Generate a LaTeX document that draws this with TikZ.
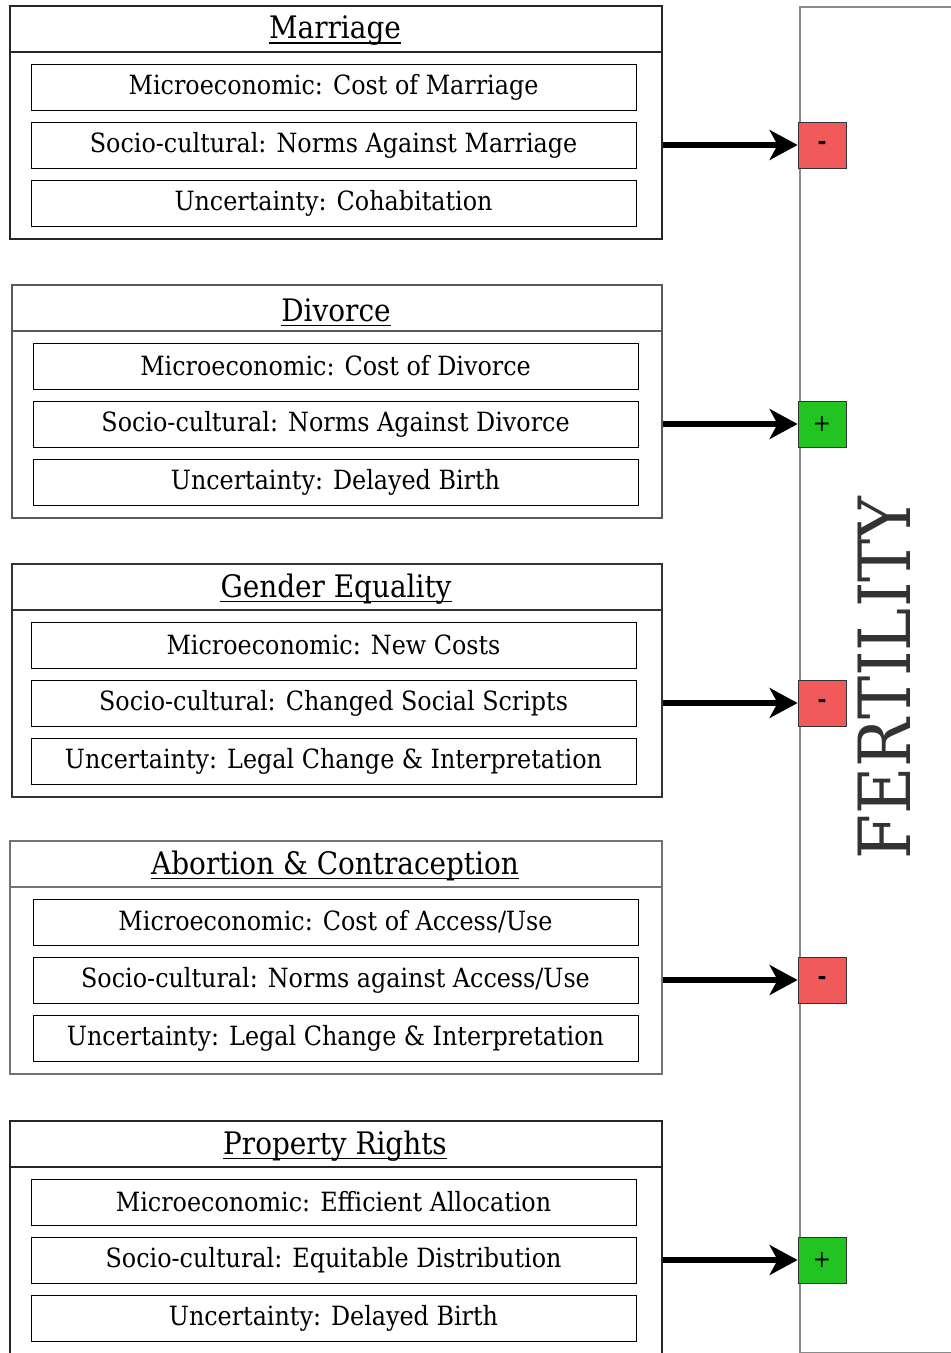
\documentclass[tikz,border=0pt]{standalone}
\usepackage{fontspec}
\setmainfont{DejaVu Serif Condensed}
\usetikzlibrary{arrows.meta}

\definecolor{negred}{HTML}{F05A5A}
\definecolor{posgreen}{HTML}{22C422}
\definecolor{fertgray}{HTML}{8A8A8A}
\definecolor{fertink}{HTML}{333333}

\tikzset{
  groupbox/.style={rectangle, line width=2pt, anchor=north west, inner sep=0pt},
  titletext/.style={inner sep=0pt, font=\fontsize{31}{34}\selectfont},
  itembox/.style={draw, rectangle, line width=1pt, minimum width=605pt,
                  minimum height=46pt, inner sep=0pt, font=\fontsize{26.5}{30}\selectfont},
  signbox/.style={draw=black!80, rectangle, line width=0.8pt, minimum width=48pt,
                  minimum height=46pt, inner sep=0pt, font=\fontsize{24}{26}\selectfont},
  effectarrow/.style={line width=6.5pt, -{Stealth[length=28pt,width=30pt,inset=8pt]}},
}

% #1 name, #2 top, #3 outer left, #4 inner left, #5 title, #6-#8 items, #9 frame colour
\newcommand\policypanel[9]{%
  \node[groupbox, draw=#9, minimum width={(661-#3)*1pt}, minimum height=233pt] (#1) at (#3,#2) {};
  \draw[draw=#9, line width=2pt] ([yshift=-47pt]#1.north west) -- ([yshift=-47pt]#1.north east);
  \node[titletext] (#1t) at ({(#3+661)/2},{#2+26}) {#5};
  \draw[line width=1.3pt] ([yshift=-4pt]#1t.base west) -- ([yshift=-4pt]#1t.base east);
  \node[itembox] (#1a) at ({#4+302.5},{#2+82}) {#6};
  \node[itembox] (#1b) at ({#4+302.5},{#2+140}) {#7};
  \node[itembox] (#1c) at ({#4+302.5},{#2+198}) {#8};
}

% #1 panel name, #2 fill colour, #3 sign
\newcommand\effectsign[3]{%
  \node[signbox, fill=#2] (#1s) at (#1b -| fx) {#3};
  \draw[effectarrow] (#1b -| #1.east) -- (#1s.west);
}

\begin{document}
\begin{tikzpicture}[x=1pt, y=-1pt]
  \useasboundingbox[fill=white] (0,0) rectangle (951,1353);
  \coordinate (fx) at (822,0);

  % outcome column
  \node[groupbox, draw=fertgray, minimum width=180pt, minimum height=1346pt] (fert) at (799,6) {};
  \node[rotate=90, text=fertink, inner sep=0pt, font=\fontsize{72}{72}\selectfont] (fertlabel) at (884,678) {FERTILITY};

  \policypanel{mar}{5}{9}{31}{Marriage}
    {Microeconomic: Cost of Marriage}
    {Socio-cultural: Norms Against Marriage}
    {Uncertainty: Cohabitation}{black!85}
  \policypanel{div}{284}{11}{33}{Divorce}
    {Microeconomic: Cost of Divorce}
    {Socio-cultural: Norms Against Divorce}
    {Uncertainty: Delayed Birth}{black!65}
  \policypanel{gen}{563}{11}{31}{Gender Equality}
    {Microeconomic: New Costs}
    {Socio-cultural: Changed Social Scripts}
    {Uncertainty: Legal Change \& Interpretation}{black!80}
  \policypanel{abo}{840}{9}{33}{Abortion \& Contraception}
    {Microeconomic: Cost of Access/Use}
    {Socio-cultural: Norms against Access/Use}
    {Uncertainty: Legal Change \& Interpretation}{black!55}
  \policypanel{pro}{1120}{9}{31}{Property Rights}
    {Microeconomic: Efficient Allocation}
    {Socio-cultural: Equitable Distribution}
    {Uncertainty: Delayed Birth}{black!85}

  \effectsign{mar}{negred}{\textbf{-}}
  \effectsign{div}{posgreen}{+}
  \effectsign{gen}{negred}{\textbf{-}}
  \effectsign{abo}{negred}{\textbf{-}}
  \effectsign{pro}{posgreen}{+}
\end{tikzpicture}
\end{document}
